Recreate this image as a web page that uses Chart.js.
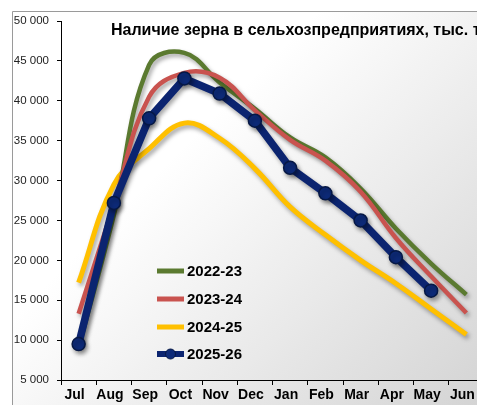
<!DOCTYPE html>
<html>
<head>
<meta charset="utf-8">
<script src="https://cdn.jsdelivr.net/npm/chart.js@4/dist/chart.umd.min.js"></script>
<style>
  html, body { margin: 0; padding: 0; background: #fff; overflow: hidden; }
  #wrap { width: 477px; height: 405px; overflow: hidden; position: relative; }
  canvas { display: block; }
</style>
</head>
<body>
<div id="wrap"><canvas id="c" width="500" height="405"></canvas></div>
<script>
const categories = ['Jul','Aug','Sep','Oct','Nov','Dec','Jan','Feb','Mar','Apr','May','Jun'];
const seriesNames = ['2022-23','2023-24','2024-25','2025-26'];
const s2022 = [9000, 25700, 44500, 46000, 42300, 39000, 35400, 32900, 29000, 24000, 19600, 15700];
const s2023 = [13300, 27000, 40500, 43500, 42900, 38800, 35100, 32500, 28600, 22800, 18000, 13400];
const s2024 = [17200, 29500, 34000, 37200, 35300, 31500, 26700, 23200, 20000, 17100, 13900, 10700];
const s2025 = [9500, 27200, 37800, 42800, 40900, 37500, 31600, 28400, 25000, 20400, 16200];
const yMin = 5000, yMax = 50000, yStep = 5000;
const titleText = 'Наличие зерна в сельхозпредприятиях, тыс. т';

const FONT = '"Liberation Sans", Arial, sans-serif';
const colors = ['#5b7a30', '#c9534f', '#ffc000', '#0b2470'];

const bgPlugin = {
  id: 'bg',
  beforeDraw(chart) {
    const ctx = chart.ctx;
    const W = chart.width, H = chart.height;
    ctx.save();
    ctx.fillStyle = '#ffffff';
    ctx.fillRect(0, 0, W, H);
    const g = ctx.createLinearGradient(200, 130, 477, 405);
    g.addColorStop(0, '#ffffff');
    g.addColorStop(1, '#d4d4d4');
    ctx.fillStyle = g;
    ctx.fillRect(12, 11, W - 12, H - 11);
    ctx.strokeStyle = '#9a9a9a';
    ctx.lineWidth = 1;
    ctx.beginPath();
    ctx.moveTo(12.5, H);
    ctx.lineTo(12.5, 11.5);
    ctx.lineTo(W, 11.5);
    ctx.stroke();
    ctx.restore();
  }
};

const shadowPlugin = {
  id: 'shadow',
  beforeDatasetDraw(chart) {
    const ctx = chart.ctx;
    ctx.save();
    ctx.shadowColor = 'rgba(0,0,0,0.35)';
    ctx.shadowBlur = 4;
    ctx.shadowOffsetX = 2;
    ctx.shadowOffsetY = 3;
  },
  afterDatasetDraw(chart) {
    chart.ctx.restore();
  }
};

const overlayPlugin = {
  id: 'overlay',
  afterDraw(chart) {
    const ctx = chart.ctx;
    ctx.save();
    // title
    ctx.fillStyle = '#000';
    ctx.font = 'bold 16px ' + FONT;
    ctx.textAlign = 'left';
    ctx.textBaseline = 'middle';
    ctx.fillText(titleText, 111, 31);
    // legend
    const ys = [271, 299, 327, 354];
    ctx.font = 'bold 15px ' + FONT;
    seriesNames.forEach((name, i) => {
      const y = ys[i];
      ctx.strokeStyle = colors[i];
      ctx.lineWidth = i === 3 ? 6 : 5;
      ctx.lineCap = 'butt';
      ctx.beginPath();
      ctx.moveTo(157, y);
      ctx.lineTo(184, y);
      ctx.stroke();
      if (i === 3) {
        ctx.fillStyle = '#0d2a78';
        ctx.strokeStyle = '#061845';
        ctx.lineWidth = 1;
        ctx.beginPath();
        ctx.arc(170.5, y, 5, 0, Math.PI * 2);
        ctx.fill();
        ctx.stroke();
      }
      ctx.fillStyle = '#000';
      ctx.fillText(name, 187, y + 1);
    });
    ctx.restore();
  }
};

const mkLine = (label, data, color, width, order) => ({
  label, data,
  borderColor: color,
  backgroundColor: color,
  borderWidth: width,
  pointRadius: 0,
  tension: 0.4,
  fill: false,
  order
});

new Chart(document.getElementById('c'), {
  type: 'line',
  data: {
    labels: categories,
    datasets: [
      mkLine(seriesNames[0], s2022, colors[0], 4.5, 3),
      mkLine(seriesNames[1], s2023, colors[1], 4.5, 2),
      mkLine(seriesNames[2], s2024, colors[2], 5, 4),
      {
        label: seriesNames[3], data: s2025,
        borderColor: colors[3], backgroundColor: '#0d2a78',
        borderWidth: 7.5, tension: 0,
        pointRadius: 6.5, pointBorderColor: '#061845', pointBorderWidth: 1.5,
        pointBackgroundColor: '#0d2a78', fill: false, order: 1
      }
    ]
  },
  options: {
    responsive: false,
    animation: false,
    devicePixelRatio: 1,
    layout: { padding: { left: 0, top: 21, right: 16, bottom: 0 } },
    plugins: { legend: { display: false }, tooltip: { enabled: false }, title: { display: false } },
    scales: {
      x: {
        offset: true,
        grid: { display: true, drawOnChartArea: false, drawTicks: true, tickLength: 5, tickColor: '#000', offset: true },
        border: { display: true, color: '#000', width: 1 },
        ticks: { color: '#000', font: { family: FONT, size: 14, weight: 'bold' }, padding: 2, maxRotation: 0, autoSkip: false, labelOffset: -4 },
        afterFit(scale) { scale.height = 25; }
      },
      y: {
        min: yMin, max: yMax,
        grid: { display: true, drawOnChartArea: false, drawTicks: true, tickLength: 4, tickColor: '#000' },
        border: { display: true, color: '#000', width: 1 },
        ticks: {
          stepSize: yStep, color: '#222', padding: 8,
          font: { family: FONT, size: 11.5 },
          callback: v => String(v).replace(/\B(?=(\d{3})+(?!\d))/g, ' ')
        },
        afterFit(scale) { scale.width = 61; }
      }
    }
  },
  plugins: [bgPlugin, shadowPlugin, overlayPlugin]
});
</script>
</body>
</html>
